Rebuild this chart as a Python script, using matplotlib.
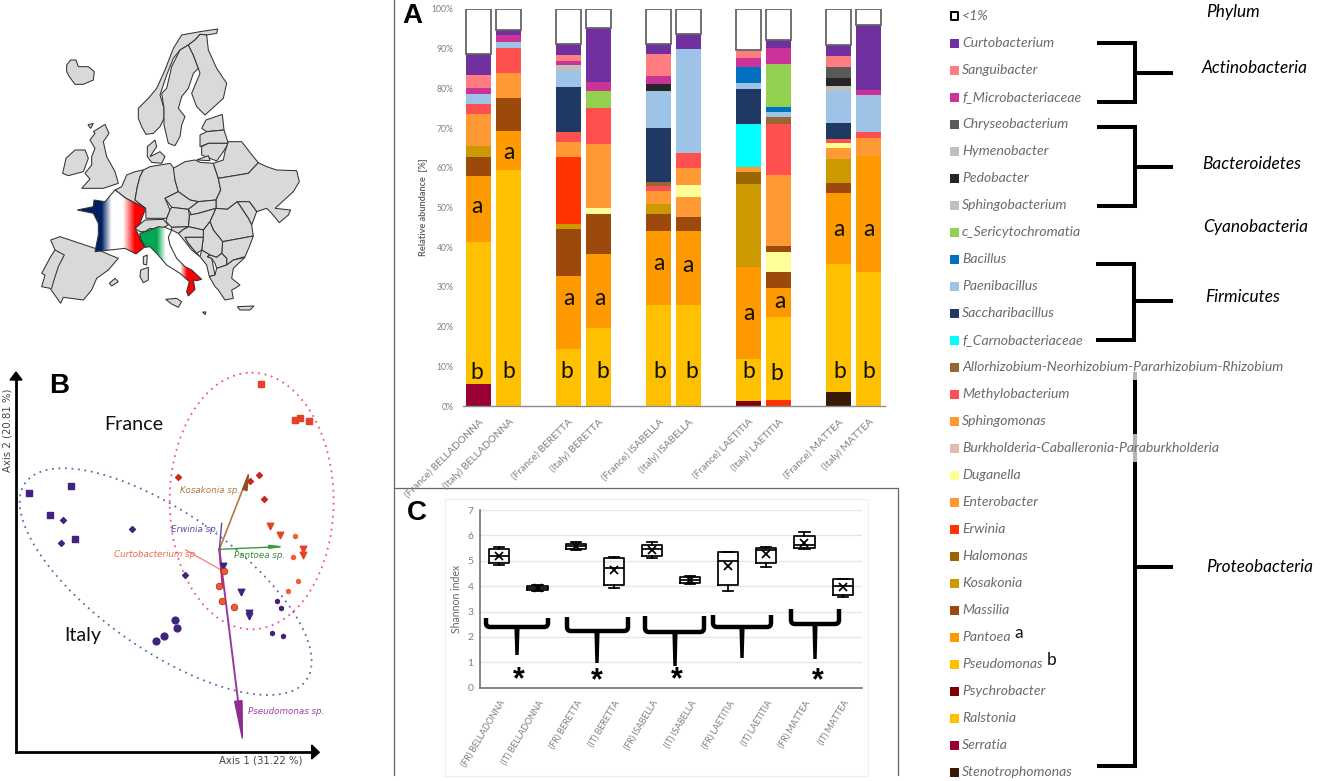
import numpy as np
import matplotlib
matplotlib.use('Agg')
import matplotlib.pyplot as plt
from matplotlib.colors import LinearSegmentedColormap
from matplotlib.patches import Ellipse, Polygon, PathPatch
from matplotlib.path import Path

W, H = 1337, 781
UI_FONT = 'Lato'
GREY = '#7f7f7f'

# ---- panel A, taxa and colours
legend_names = ['<1%', 'Curtobacterium', 'Sanguibacter', 'f_Microbacteriaceae', 'Chryseobacterium',
                'Hymenobacter', 'Pedobacter', 'Sphingobacterium', 'c_Sericytochromatia', 'Bacillus',
                'Paenibacillus', 'Saccharibacillus', 'f_Carnobacteriaceae',
                'Allorhizobium-Neorhizobium-Pararhizobium-Rhizobium', 'Methylobacterium', 'Sphingomonas',
                'Burkholderia-Caballeronia-Paraburkholderia', 'Duganella', 'Enterobacter', 'Erwinia',
                'Halomonas', 'Kosakonia', 'Massilia', 'Pantoea', 'Pseudomonas', 'Psychrobacter',
                'Ralstonia', 'Serratia', 'Stenotrophomonas']
legend_colors = ['#ffffff', '#7030a0', '#ff7c80', '#cc3399', '#595959', '#bfbfbf', '#262626', '#bfbfbf',
                 '#92d050', '#0070c0', '#9dc3e6', '#1f3864', '#00ffff', '#996633', '#ff5050', '#ff9933',
                 '#dfbcae', '#ffff99', '#ff9933', '#ff3300', '#996600', '#cc9900', '#9c4a0c', '#ff9900',
                 '#ffc000', '#800000', '#ffc000', '#990033', '#3a1a06']
taxon_color = dict(zip(legend_names, legend_colors))

# ---- panel A, each bar from the bottom up: taxon and top of its segment in %
fr_bella_taxa = ['Serratia', 'Pseudomonas', 'Pantoea', 'Massilia', 'Kosakonia', 'Enterobacter', 'Methylobacterium',
                 'Paenibacillus', 'f_Microbacteriaceae', 'Sanguibacter', 'Curtobacterium', '<1%']
fr_bella_top = [5.6, 41.3, 58.0, 62.6, 65.5, 73.5, 76.0, 78.7, 80.2, 83.5, 88.7, 100]
it_bella_taxa = ['Pseudomonas', 'Pantoea', 'Massilia', 'Sphingomonas', 'Methylobacterium', 'Paenibacillus',
                 'f_Microbacteriaceae', 'Curtobacterium', '<1%']
it_bella_top = [59.4, 69.3, 77.7, 83.8, 90.2, 91.6, 93.5, 94.6, 100]
fr_ber_taxa = ['Pseudomonas', 'Pantoea', 'Massilia', 'Kosakonia', 'Erwinia', 'Enterobacter', 'Methylobacterium',
               'Saccharibacillus', 'Paenibacillus', 'Hymenobacter', 'f_Microbacteriaceae', 'Sanguibacter',
               'Curtobacterium', '<1%']
fr_ber_top = [14.4, 32.8, 44.5, 45.8, 62.8, 66.5, 69.0, 80.4, 84.5, 86.0, 87.0, 88.5, 91.1, 100]
it_ber_taxa = ['Pseudomonas', 'Pantoea', 'Massilia', 'Duganella', 'Sphingomonas', 'Methylobacterium',
               'c_Sericytochromatia', 'f_Microbacteriaceae', 'Curtobacterium', '<1%']
it_ber_top = [19.6, 38.3, 48.3, 49.8, 66.0, 75.1, 79.3, 81.7, 95.1, 100]
fr_isa_taxa = ['Pseudomonas', 'Pantoea', 'Massilia', 'Kosakonia', 'Sphingomonas', 'Methylobacterium',
               'Allorhizobium-Neorhizobium-Pararhizobium-Rhizobium', 'Saccharibacillus', 'Paenibacillus',
               'Pedobacter', 'f_Microbacteriaceae', 'Sanguibacter', 'Curtobacterium', '<1%']
fr_isa_top = [25.4, 44.1, 48.3, 50.8, 54.2, 55.4, 56.5, 69.9, 79.4, 81.2, 83.1, 88.7, 91.3, 100]
it_isa_taxa = ['Pseudomonas', 'Pantoea', 'Massilia', 'Sphingomonas', 'Duganella', 'Enterobacter',
               'Methylobacterium', 'Paenibacillus', 'Curtobacterium', '<1%']
it_isa_top = [25.4, 44.0, 47.6, 52.7, 55.7, 59.9, 63.8, 89.9, 93.8, 100]
fr_lae_taxa = ['Psychrobacter', 'Pseudomonas', 'Pantoea', 'Kosakonia', 'Halomonas', 'Enterobacter',
               'f_Carnobacteriaceae', 'Saccharibacillus', 'Paenibacillus', 'Bacillus', 'f_Microbacteriaceae',
               'Sanguibacter', '<1%']
fr_lae_top = [1.2, 11.8, 35.1, 56.0, 58.9, 60.2, 71.0, 79.9, 81.4, 85.4, 87.6, 89.6, 100]
it_lae_taxa = ['Erwinia', 'Pseudomonas', 'Pantoea', 'Massilia', 'Duganella', 'Massilia', 'Sphingomonas',
               'Methylobacterium', 'Allorhizobium-Neorhizobium-Pararhizobium-Rhizobium', 'Paenibacillus',
               'Bacillus', 'c_Sericytochromatia', 'f_Microbacteriaceae', 'Curtobacterium', '<1%']
it_lae_top = [1.4, 22.4, 29.8, 33.7, 38.8, 40.3, 58.3, 71.1, 72.8, 74.0, 75.3, 86.1, 90.3, 92.1, 100]
fr_mat_taxa = ['Stenotrophomonas', 'Pseudomonas', 'Pantoea', 'Massilia', 'Kosakonia', 'Enterobacter', 'Duganella',
               'Methylobacterium', 'Saccharibacillus', 'Paenibacillus', 'Sphingobacterium', 'Pedobacter',
               'Chryseobacterium', 'Sanguibacter', 'Curtobacterium', '<1%']
fr_mat_top = [3.6, 35.7, 53.6, 56.1, 62.2, 65.1, 66.2, 67.3, 71.4, 79.4, 80.7, 82.5, 85.5, 88.1, 90.9, 100]
it_mat_taxa = ['Pseudomonas', 'Pantoea', 'Sphingomonas', 'Methylobacterium', 'Paenibacillus',
               'f_Microbacteriaceae', 'Curtobacterium', '<1%']
it_mat_top = [33.8, 63.0, 67.6, 69.0, 78.3, 79.6, 96.0, 100]

bar_pos = [0, 1, 3, 4, 6, 7, 9, 10, 12, 13]
bar_taxa = [fr_bella_taxa, it_bella_taxa, fr_ber_taxa, it_ber_taxa, fr_isa_taxa,
            it_isa_taxa, fr_lae_taxa, it_lae_taxa, fr_mat_taxa, it_mat_taxa]
bar_top = [fr_bella_top, it_bella_top, fr_ber_top, it_ber_top, fr_isa_top,
           it_isa_top, fr_lae_top, it_lae_top, fr_mat_top, it_mat_top]
bar_labels = ['(France) BELLADONNA', '(Italy) BELLADONNA', '(France) BERETTA', '(Italy) BERETTA',
              '(France) ISABELLA', '(Italy) ISABELLA', '(France) LAETITIA', '(Italy) LAETITIA',
              '(France) MATTEA', '(Italy) MATTEA']
a_x = [-0.04, 1.0, 3.03, 4.04, 6.02, 6.98, 9.02, 10.05, 12.0, 13.0]
a_y = [50.2, 63.8, 27.2, 27.2, 35.9, 35.4, 23.3, 26.2, 44.4, 44.4]
b_x = [-0.06, 1.0, 2.96, 4.16, 6.03, 7.11, 9.0, 9.94, 12.05, 13.0]
b_y = [8.4, 8.6, 8.6, 8.6, 8.6, 8.6, 8.6, 8.2, 8.6, 8.6]

# ---- panel C, Shannon index
shannon_labels = ['(FR) BELLADONNA', '(IT) BELLADONNA', '(FR) BERETTA', '(IT) BERETTA', '(FR) ISABELLA',
                  '(IT) ISABELLA', '(FR) LAETITIA', '(IT) LAETITIA', '(FR) MATTEA', '(IT) MATTEA']
shannon_low = [4.82, 3.82, 5.43, 3.92, 5.11, 4.07, 3.82, 4.76, 5.47, 3.57]
shannon_q1 = [4.93, 3.85, 5.47, 4.06, 5.20, 4.14, 4.03, 4.93, 5.49, 3.64]
shannon_med = [5.20, 3.93, 5.58, 4.73, 5.45, 4.24, 4.99, 5.41, 5.61, 4.02]
shannon_q3 = [5.45, 4.00, 5.68, 5.10, 5.64, 4.35, 5.36, 5.49, 5.99, 4.30]
shannon_high = [5.53, 4.05, 5.73, 5.15, 5.72, 4.40, 5.36, 5.53, 6.12, 4.30]
shannon_mean = [5.20, 3.93, 5.60, 4.63, 5.44, 4.24, 4.80, 5.27, 5.70, 3.98]

# ---- panel B, ordination scores
it_square_x, it_square_y = [88, 212, 151, 224], [398, 377, 464, 537]
it_diamond_x, it_diamond_y = [190, 182, 396, 556], [480, 550, 507, 644]
it_circle_x, it_circle_y = [526, 530, 491, 467], [781, 805, 828, 842]
it_tri_x, it_tri_y = [668, 724, 747, 747], [617, 697, 760, 768]
it_star_x, it_star_y = [830, 844, 817, 848], [723, 745, 820, 828]
fr_square_x, fr_square_y = [783, 884, 901, 928], [73, 181, 175, 182]
fr_diamond_x, fr_diamond_y = [534, 778, 750, 793], [351, 344, 364, 417]
fr_circle_x, fr_circle_y = [671, 657, 665, 703], [634, 679, 723, 741]
fr_tri_x, fr_tri_y = [810, 841, 909, 910], [498, 524, 567, 585]
fr_star_x, fr_star_y = [884, 879, 894, 865], [529, 592, 662, 694]

# ---- map outlines, traced on three crops of the map
iceland = [(20, 120), (32, 105), (48, 105), (55, 125), (85, 125), (103, 140), (100, 165), (70, 178), (45, 178), (28, 155), (20, 140)]
ireland = [(8, 445), (18, 400), (45, 375), (75, 375), (85, 400), (70, 440), (25, 452)]
britain = [(100, 320), (135, 298), (147, 325), (130, 350), (140, 395), (165, 440), (175, 475), (130, 490), (65, 490),
           (90, 462), (75, 445), (95, 420), (95, 395), (105, 370), (90, 345), (105, 325)]
norway = [(235, 250), (265, 220), (290, 190), (315, 135), (340, 70), (365, 30), (420, 20), (473, 12), (470, 25), (440, 30),
          (420, 28), (405, 45), (385, 60), (360, 75), (340, 100), (320, 150), (305, 195), (300, 210), (312, 250), (312, 280),
          (300, 305), (280, 325), (258, 328), (245, 305), (235, 280)]
sweden = [(305, 205), (320, 190), (335, 125), (360, 75), (385, 60), (400, 90), (415, 130), (400, 145), (385, 190), (365, 215),
          (355, 250), (375, 275), (365, 300), (360, 335), (345, 362), (325, 355), (312, 300), (312, 250)]
finland = [(385, 60), (405, 45), (420, 28), (440, 30), (445, 75), (470, 130), (500, 175), (490, 220), (435, 270), (410, 245),
           (395, 205), (420, 145), (415, 130), (400, 90)]
denmark = [(262, 365), (285, 345), (290, 365), (270, 395), (300, 380), (315, 395), (305, 415), (275, 412), (262, 395)]
estonia = [(438, 285), (487, 268), (492, 315), (440, 320), (425, 310)]
latvia = [(420, 330), (440, 320), (492, 315), (505, 355), (445, 355), (420, 365)]
lithuania = [(425, 365), (445, 355), (505, 355), (490, 380), (470, 408), (425, 390)]
kaliningrad = [(410, 405), (445, 392), (450, 407)]
north_isles = [(84, 300), (100, 295), (92, 310)]

iberia = [(62, 240), (90, 230), (195, 265), (240, 285), (265, 295), (235, 330), (200, 355), (185, 390), (160, 420), (100, 412),
          (92, 430), (60, 385), (35, 380), (45, 345), (35, 340), (62, 290), (75, 270)]
portugal_border = [(75, 270), (103, 285), (85, 320), (72, 360), (65, 385)]
balearic = [(238, 370), (255, 355), (265, 365), (245, 378)]
sardinia = [(332, 330), (355, 322), (355, 360), (340, 368), (330, 350)]
corsica = [(340, 290), (352, 285), (350, 315), (340, 312)]
france = [(142, 150), (190, 140), (192, 120), (225, 125), (255, 90), (288, 115), (347, 145), (330, 190), (315, 205), (345, 260),
          (318, 282), (285, 265), (240, 270), (195, 275), (205, 225), (205, 190), (190, 160)]
benelux = [(255, 90), (275, 80), (290, 45), (315, 35), (340, 30), (330, 50), (322, 80), (315, 120), (347, 145), (288, 115)]
germany = [(340, 30), (360, 20), (420, 10), (432, 25), (435, 60), (445, 95), (405, 115), (420, 150), (410, 175), (348, 175),
           (347, 145), (315, 120), (322, 80), (330, 50)]
switzerland = [(315, 205), (345, 180), (400, 178), (415, 195), (385, 210), (360, 205), (345, 215), (330, 215)]

poland = [(70, 55), (105, 35), (135, 30), (150, 37), (190, 40), (205, 85), (212, 120), (198, 150), (145, 155), (120, 150), (85, 125), (75, 90)]
belarus = [(190, 40), (220, 30), (225, 5), (235, -25), (275, -25), (310, 20), (325, 38), (295, 70), (205, 85)]
ukraine = [(205, 85), (295, 70), (325, 38), (350, 50), (380, 60), (440, 62), (448, 95), (430, 125), (375, 175), (422, 180),
           (415, 195), (388, 218), (365, 190), (350, 175), (320, 185), (298, 155), (262, 155), (232, 178), (198, 175), (198, 150),
           (212, 120)]
czechia = [(45, 145), (85, 125), (120, 150), (145, 155), (115, 178), (65, 172)]
slovakia = [(115, 178), (145, 155), (198, 150), (198, 175), (145, 190), (125, 195)]
hungary = [(118, 195), (145, 190), (198, 175), (180, 215), (160, 240), (115, 230)]
austria = [(50, 205), (60, 180), (65, 172), (115, 178), (118, 195), (115, 230), (65, 232), (48, 215)]
moldova = [(262, 155), (298, 155), (320, 185), (305, 225), (295, 205)]
romania = [(198, 175), (232, 178), (262, 155), (295, 205), (305, 225), (310, 258), (218, 275), (190, 240), (180, 215)]
bulgaria = [(218, 275), (310, 258), (298, 290), (285, 320), (250, 330), (230, 345), (230, 325), (215, 310)]
serbia = [(160, 240), (180, 215), (190, 240), (218, 275), (215, 310), (200, 322), (180, 315), (155, 300), (160, 262)]
croatia = [(100, 238), (115, 230), (160, 240), (160, 262), (105, 262), (115, 280), (150, 320), (125, 300), (95, 262), (85, 250)]
slovenia = [(65, 232), (115, 230), (100, 238), (85, 250), (65, 240)]
bosnia = [(105, 262), (160, 262), (155, 300), (140, 310), (115, 280)]
albania = [(150, 320), (155, 300), (180, 315), (172, 320), (185, 325), (195, 375), (178, 380), (170, 345)]
macedonia = [(180, 315), (200, 322), (215, 310), (230, 325), (230, 345), (200, 355), (195, 340), (185, 325), (172, 320)]
greece = [(178, 380), (195, 375), (200, 355), (230, 345), (250, 330), (285, 322), (250, 355), (245, 385), (270, 405), (255, 415),
          (245, 420), (250, 445), (225, 450), (205, 420), (195, 410)]
sicily = [(47, 448), (80, 445), (95, 455), (85, 472), (65, 462)]
crete = [(262, 470), (312, 468), (300, 480), (270, 480)]
malta = [(158, 486), (168, 486), (165, 494)]
italy = [(-30, 250), (0, 240), (25, 230), (45, 232), (65, 240), (55, 262), (60, 285), (80, 325), (105, 350), (125, 360), (155, 388),
         (140, 392), (130, 390), (135, 418), (115, 438), (110, 425), (118, 395), (90, 370), (50, 345), (20, 310), (0, 290), (-15, 292),
         (-30, 270)]

north_lands = [iceland, ireland, britain, norway, sweden, finland, denmark, estonia, latvia, lithuania, kaliningrad, north_isles]
west_lands = [iberia, balearic, sardinia, corsica, benelux, germany, switzerland]
east_lands = [poland, belarus, ukraine, czechia, slovakia, hungary, austria, moldova, romania, bulgaria, serbia, croatia,
              slovenia, bosnia, albania, macedonia, greece, sicily, crete, malta]

# ---- phylum brackets: x start, x spine, top, bottom, stub y
bracket_x0 = [1097, 1097, 1096]
bracket_xs = [1135, 1135, 1134]
bracket_top = [43, 127, 263.5]
bracket_bot = [102, 206, 339.5]
bracket_mid = [72.7, 166.7, 301]
phylum_names = ['Phylum', 'Actinobacteria', 'Bacteroidetes', 'Cyanobacteria', 'Firmicutes', 'Proteobacteria']
phylum_x = [1206.5, 1202, 1202, 1203, 1205, 1206]
phylum_y = [12, 68, 164, 227, 297, 566.5]

# ---- hand drawn brackets on panel C, in px
hand_x0 = [486, 567, 645, 713, 791]
hand_x1 = [548, 628, 704, 771, 839]
hand_top = [618, 617, 616, 615, 609]
hand_y = [627, 631, 632, 627, 624]
hand_stem_x = [517, 597, 675, 742, 815]
hand_stem_end = [655, 663, 666, 658, 659]
star_x = [519, 597, 676.7, 818]
star_y = [674.5, 675, 674.5, 675.7]


def px_axes(fig, x0, y0, x1, y1):
    return fig.add_axes([x0 / W, 1 - y1 / H, (x1 - x0) / W, (y1 - y0) / H])


def shift(points, dx, dy):
    return [(x + dx, y + dy) for x, y in points]


def draw_map(fig):
    # crop of the map drawn in 3x coordinates
    ax = px_axes(fig, 20, 0, 310, 340)
    ax.axis('off')
    outlines = [shift(p, 120, 75) for p in north_lands]
    outlines += [shift(p, 30, 480) for p in west_lands]
    outlines += [shift(p, 390, 450) for p in east_lands]
    for land in outlines:
        ax.add_patch(Polygon(land, closed=True, fc='#d9d9d9', ec='#333333', lw=0.75))
    xs, ys = zip(*shift(portugal_border, 30, 480))
    ax.plot(xs, ys, color='#333333', lw=0.75)

    fr_map = LinearSegmentedColormap.from_list('fr', [(0, '#002060'), (0.356, '#002060'), (0.5, '#ffffff'),
                                                      (0.67, '#ffffff'), (0.84, '#ff0000'), (1, '#ff0000')])
    it_map = LinearSegmentedColormap.from_list('it', [(0, '#00a651'), (0.27, '#00a651'), (0.416, '#ffffff'),
                                                      (0.65, '#ffffff'), (0.76, '#ff0000'), (1, '#ff0000')])
    ramp = np.linspace(0, 1, 256).reshape(1, -1)
    for outline, cmap in [(shift(france, 30, 480), fr_map), (shift(italy, 390, 450), it_map)]:
        xs, ys = zip(*outline)
        patch = Polygon(outline, closed=True, fc='none', ec='#333333', lw=0.75, zorder=4)
        ax.add_patch(patch)
        im = ax.imshow(ramp, cmap=cmap, extent=(min(xs), max(xs), max(ys), min(ys)), aspect='auto', zorder=3)
        im.set_clip_path(patch)
    ax.set_xlim(0, 870)
    ax.set_ylim(1020, 0)


def draw_ordination(fig):
    # crop of panel B drawn in 3x coordinates
    ax = px_axes(fig, 0, 360, 340, 781)
    ax.set_xlim(0, 1020)
    ax.set_ylim(1263, 0)
    ax.axis('off')

    ax.add_patch(Ellipse((755, 423), 492, 770, fc='none', ec='#f0557a', lw=1.3, ls=(0, (1, 2.6))))
    ax.add_patch(Ellipse((497, 665), 1030, 412, angle=35, fc='none', ec='#6a62b0', lw=1.3, ls=(0, (1, 2.6))))

    it_col, fr_col = '#40237f', '#e8412a'
    ax.scatter(it_square_x, it_square_y, marker='s', s=20, color=it_col, zorder=3)
    ax.scatter(it_diamond_x, it_diamond_y, marker='D', s=9, color=it_col, zorder=3)
    ax.scatter(it_circle_x, it_circle_y, marker='o', s=24, color=it_col, zorder=3)
    ax.scatter(it_tri_x, it_tri_y, marker='v', s=22, color=it_col, zorder=3)
    ax.scatter(it_star_x, it_star_y, marker='h', s=10, color=it_col, zorder=3)
    ax.scatter(fr_square_x, fr_square_y, marker='s', s=20, color=fr_col, zorder=3)
    ax.scatter(fr_diamond_x, fr_diamond_y, marker='D', s=9, color='#c8281e', zorder=3)
    ax.scatter(fr_circle_x, fr_circle_y, marker='o', s=22, color='#ef5a2e', ec='#b03020', lw=0.6, zorder=3)
    ax.scatter(fr_tri_x, fr_tri_y, marker='v', s=22, color=fr_col, zorder=3)
    ax.scatter(fr_star_x, fr_star_y, marker='h', s=10, color='#f0603a', zorder=3)

    # biplot arrows
    ax.plot([658, 745], [568, 345], color='#b07a3e', lw=1.2, zorder=2)
    ax.add_patch(Polygon([(745, 345), (728, 388), (741, 392)], color='#8a5420', zorder=2))
    ax.plot([658, 665], [568, 490], color='#5b46a8', lw=1.0, zorder=2)
    ax.plot([658, 840], [568, 560], color='#3a9a3a', lw=1.0, zorder=2)
    ax.add_patch(Polygon([(840, 560), (806, 556), (806, 565)], color='#3a9a3a', zorder=2))
    ax.plot([667, 557], [632, 570], color='#f0907a', lw=1.0, zorder=2)
    ax.plot([658, 667], [568, 672], color='#d02030', lw=1.4, zorder=2)
    ax.plot([658, 715], [568, 1030], color='#9a3a9c', lw=1.4, zorder=2)
    ax.add_patch(Polygon([(704, 1024), (726, 1022), (727, 1135)], color='#8e2c90', zorder=2))

    species_font = dict(family='DejaVu Sans', style='italic', size=6.3, va='center')
    ax.text(540, 391, 'Kosakonia sp.', color='#b07a3e', **species_font)
    ax.text(512, 507, 'Erwinia sp.', color='#5b46a8', **species_font)
    ax.text(342, 583, 'Curtobacterium sp.', color='#ea6a50', **species_font)
    ax.text(702, 585, 'Pantoea sp.', color='#3a8a3a', **species_font)
    ax.text(744, 1056, 'Pseudomonas sp.', color='#a040a8', **species_font)

    # axes arrows
    ax.plot([48, 48], [1177, 60], color='black', lw=2)
    ax.plot([48, 935], [1177, 1177], color='black', lw=2)
    ax.add_patch(Polygon([(30, 60), (66, 60), (48, 36)], color='black'))
    ax.add_patch(Polygon([(935, 1155), (935, 1197), (958, 1177)], color='black'))
    ax.text(22, 210, 'Axis 2 (20.81 %)', rotation=90, ha='center', va='center', size=7.3,
            color='#444444', family='DejaVu Sans')
    ax.text(782, 1202, 'Axis 1 (31.22 %)', ha='center', va='center', size=7.3,
            color='#444444', family='DejaVu Sans')
    ax.text(400, 195, 'France', ha='center', va='center', size=14.2, family=UI_FONT, color='#111111')
    ax.text(247, 828, 'Italy', ha='center', va='center', size=14.2, family=UI_FONT, color='#111111')


def draw_bars(fig):
    ax = px_axes(fig, 463, 9, 884.5, 406)
    for x, taxa, tops in zip(bar_pos, bar_taxa, bar_top):
        bottom = 0
        for taxon, top in zip(taxa, tops):
            if taxon == '<1%':
                ax.bar(x, top - bottom, bottom=bottom, width=0.83, fc='white', ec='#666666', lw=1.3)
            else:
                ax.bar(x, top - bottom, bottom=bottom, width=0.83, color=taxon_color[taxon], lw=0)
            bottom = top
    ax.set_xlim(-0.517, 13.533)
    ax.set_ylim(0, 100)
    ax.set_yticks(range(0, 101, 10))
    ax.set_yticklabels([f'{v}%' for v in range(0, 101, 10)], fontsize=6.2, color=GREY, family=UI_FONT)
    ax.set_xticks(bar_pos)
    ax.set_xticklabels(bar_labels, rotation=45, ha='right', rotation_mode='anchor',
                       fontsize=7.4, color=GREY, family=UI_FONT)
    ax.tick_params(axis='both', length=0)
    ax.tick_params(axis='y', pad=7)
    ax.tick_params(axis='x', pad=8)
    for side in ['top', 'left', 'right']:
        ax.spines[side].set_visible(False)
    ax.spines['bottom'].set_color('#8c8c8c')
    ax.spines['bottom'].set_linewidth(1.0)
    for x, y in zip(a_x, a_y):
        ax.text(x, y, 'a', ha='center', va='center', fontsize=16.5, family=UI_FONT, color='#111111')
    for x, y in zip(b_x, b_y):
        ax.text(x, y, 'b', ha='center', va='center', fontsize=16.5, family=UI_FONT, color='#111111')


def draw_shannon(fig):
    ax = px_axes(fig, 480.3, 510, 861.7, 687.7)
    stats = []
    for i in range(len(shannon_labels)):
        stats.append({'whislo': shannon_low[i], 'q1': shannon_q1[i], 'med': shannon_med[i], 'q3': shannon_q3[i],
                      'whishi': shannon_high[i], 'mean': shannon_mean[i], 'fliers': []})
    line = dict(color='black', linewidth=1.25)
    ax.bxp(stats, positions=range(len(stats)), widths=0.53, showmeans=True, boxprops=line, medianprops=line,
           whiskerprops=line, capprops=line,
           meanprops=dict(marker='x', markeredgecolor='black', markeredgewidth=1.3, markersize=6))
    ax.set_xlim(-0.5, 9.5)
    ax.set_ylim(0, 7)
    ax.set_yticks(range(8))
    ax.yaxis.grid(True, color='#e6e6e6', lw=1)
    ax.set_axisbelow(True)
    ax.set_xticks(range(len(shannon_labels)))
    ax.set_xticklabels(shannon_labels, rotation=59, ha='right', rotation_mode='anchor',
                       fontsize=6.4, color=GREY, family=UI_FONT)
    ax.tick_params(axis='y', length=0, pad=5, labelsize=7.5, labelcolor=GREY)
    ax.tick_params(axis='x', length=0, pad=8)
    for label in ax.get_yticklabels():
        label.set_family(UI_FONT)
    for side in ['top', 'right']:
        ax.spines[side].set_visible(False)
    ax.spines['left'].set_color('#666666')
    ax.spines['bottom'].set_color('#666666')
    ax.spines['left'].set_linewidth(1.1)
    ax.spines['bottom'].set_linewidth(1.1)


fig = plt.figure(figsize=(W / 100, H / 100), dpi=100, facecolor='white')

# frame around panel C first, so the axes sit on it
over_bg = fig.add_axes([0, 0, 1, 1])
over_bg.set_xlim(0, W)
over_bg.set_ylim(H, 0)
over_bg.axis('off')
over_bg.plot([445, 868, 868, 445, 445], [499.3, 499.3, 776, 776, 499.3], color='#efefef', lw=0.8)
over_bg.plot([394, 394], [0, 775], color='#666666', lw=0.9)
over_bg.plot([394, 898, 898], [488, 488, 775], color='#666666', lw=0.9)

draw_map(fig)
draw_ordination(fig)
draw_bars(fig)
draw_shannon(fig)

over = fig.add_axes([0, 0, 1, 1])
over.patch.set_alpha(0)
over.set_xlim(0, W)
over.set_ylim(H, 0)
over.axis('off')

# legend column
for i, (name, col) in enumerate(zip(legend_names, legend_colors)):
    y = 16.3 + 27 * i
    if name == '<1%':
        over.plot([951, 958, 958, 951, 951], [y - 4, y - 4, y + 4, y + 4, y - 4], color='black', lw=1.4)
    else:
        over.fill([950, 958.5, 958.5, 950], [y - 4.2, y - 4.2, y + 4.2, y + 4.2], color=col, lw=0)
    over.text(962, y, name, style='italic', fontsize=10.1, color='#6b6b6b', va='center', family=UI_FONT)
over.text(1014, 633, 'a', fontsize=12.5, va='center', family=UI_FONT, color='#111111')
over.text(1047, 660, 'b', fontsize=12.5, va='center', family=UI_FONT, color='#111111')

# phylum brackets
bk = dict(color='black', lw=2.9, solid_capstyle='butt', solid_joinstyle='miter')
for x0, xs, top, bot, mid in zip(bracket_x0, bracket_xs, bracket_top, bracket_bot, bracket_mid):
    over.plot([x0, xs, xs, x0], [top, top, bot, bot], **bk)
    over.plot([xs, 1173], [mid, mid], **bk)
over.plot([1135, 1135, 1097], [380, 765.7, 765.7], **bk)
over.plot([1135, 1173], [566.7, 566.7], **bk)
over.plot([1135, 1135], [372, 380], color='#b5b5b5', lw=2.9, solid_capstyle='butt')
over.plot([1135, 1135], [434, 462], color='#b5b5b5', lw=2.9, solid_capstyle='butt')
for name, x, y in zip(phylum_names, phylum_x, phylum_y):
    over.text(x, y, name, style='italic', fontsize=12.4, va='center', family=UI_FONT, color='black')

# hand drawn marks on panel C
for x0, x1, top, y, sx, end in zip(hand_x0, hand_x1, hand_top, hand_y, hand_stem_x, hand_stem_end):
    verts = [(x0, top), (x0, y - 4), (x0, y), (x0 + 4, y), (x1 - 4, y), (x1, y), (x1, y - 4), (x1, top)]
    codes = [Path.MOVETO, Path.LINETO, Path.CURVE3, Path.CURVE3, Path.LINETO, Path.CURVE3, Path.CURVE3, Path.LINETO]
    over.add_patch(PathPatch(Path(verts, codes), fc='none', ec='black', lw=3.2, capstyle='butt'))
    over.add_patch(Polygon([(sx - 2.6, y), (sx + 2.6, y), (sx + 1.7, end), (sx - 1.7, end)], color='black', lw=0))
for x, y in zip(star_x, star_y):
    over.text(x, y + 6, '*', fontsize=22, ha='center', va='center', family='Liberation Sans',
              weight='bold', color='black')

# panel letters
letter = dict(family='Liberation Sans', weight='bold', fontsize=20, color='black', va='center', ha='center')
over.text(412, 16, 'A', **letter)
over.text(59, 386, 'B', **letter)
over.text(416.5, 513, 'C', **letter)

# axis titles
over.text(424, 207, 'Relative abundance  [%]', rotation=90, ha='center', va='center',
          fontsize=6.6, color='#666666', family=UI_FONT, weight='bold')
over.text(457, 599, 'Shannon index', rotation=90, ha='center', va='center',
          fontsize=7.6, color='#666666', family=UI_FONT)

fig.savefig('out.png', dpi=100)
